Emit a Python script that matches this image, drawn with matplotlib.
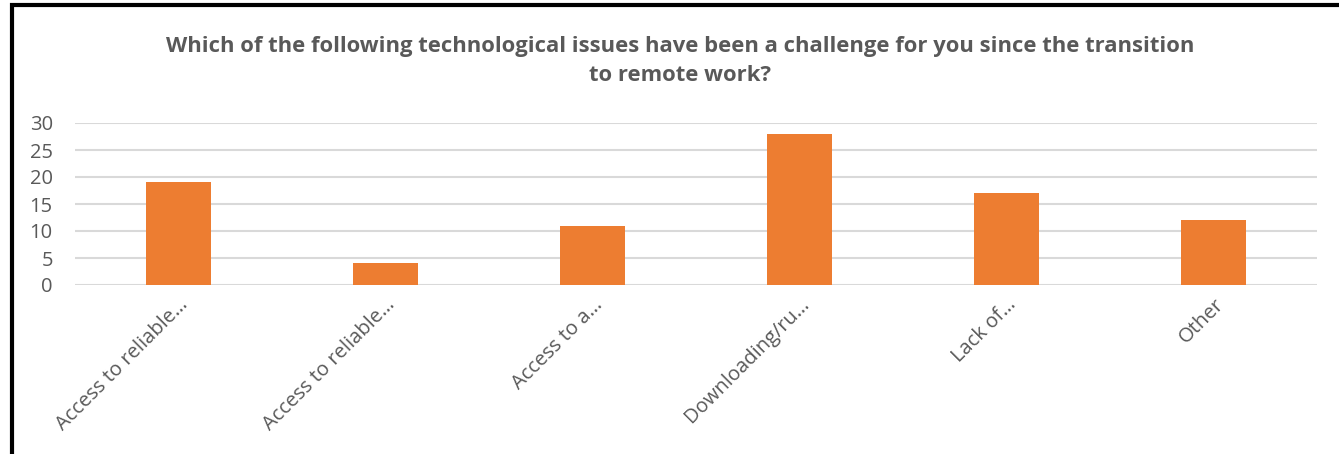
import matplotlib.pyplot as plt
from matplotlib.patches import Rectangle

#--------- Data --------------
categories = ['Access to reliable…', 'Access to reliable…', 'Access to a…',
              'Downloading/ru…', 'Lack of…', 'Other']
counts = [19, 4, 11, 28, 17, 12]
y_ticks = [0, 5, 10, 15, 20, 25, 30]
title = ('Which of the following technological issues have been a challenge for you since the transition\n'
         'to remote work?')
#-----------------------------

plt.rcParams['font.family'] = ['Open Sans', 'DejaVu Sans']
text_col = '#595959'
bar_col = '#ED7D31'
grid_col = '#d9d9d9'

W, H = 1339, 454
fig = plt.figure(figsize=(W / 100, H / 100), dpi=100)

# plot area in pixels: x 75..1317, y(0)=285, y(30)=123
ax = fig.add_axes([75 / W, 1 - 285 / H, (1317 - 75) / W, (285 - 123) / H])

x = list(range(len(categories)))
ax.bar(x, counts, width=0.315, color=bar_col, zorder=3)

ax.set_xlim(-0.5, len(categories) - 0.5)
ax.set_ylim(0, 30)
ax.set_yticks(y_ticks)
ax.set_yticklabels([str(v) for v in y_ticks], fontsize=14.5, color=text_col)
ax.tick_params(axis='y', length=0, pad=16)
ax.tick_params(axis='x', length=0, pad=7)

ax.set_xticks(x)
ax.set_xticklabels(categories, rotation=45, ha='right', va='top',
                   rotation_mode='anchor', fontsize=14.5, color=text_col)

for s in ax.spines.values():
    s.set_visible(False)
ax.yaxis.grid(True, color=grid_col, linewidth=1.5, zorder=0)
ax.set_axisbelow(True)

fig.text(680 / W, 1 - 61 / H, title, ha='center', va='center',
         fontsize=15.8, fontweight='bold', color=text_col, linespacing=1.45)

# chart frame (left, top edges visible)
fig.add_artist(Rectangle((12 / W, -0.1), 1.2, 1 - 5 / H + 0.1, transform=fig.transFigure,
                         fill=False, edgecolor='black', linewidth=3))

fig.savefig('out.png', dpi=100)
